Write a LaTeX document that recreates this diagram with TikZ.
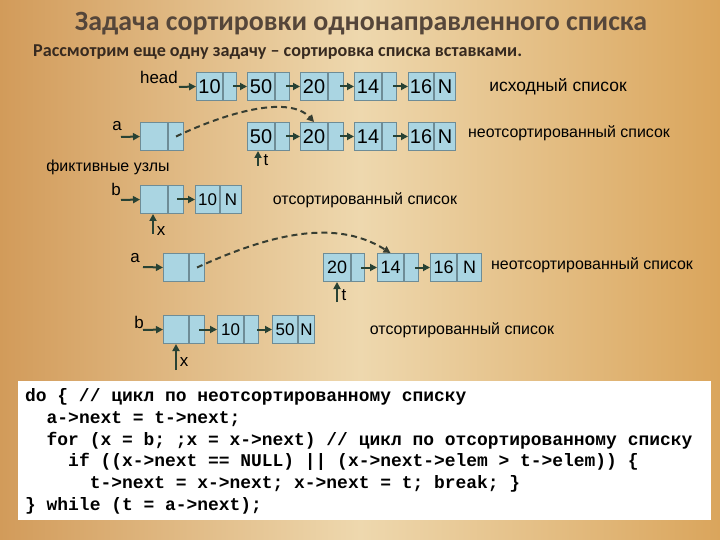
\documentclass[tikz,border=0pt]{standalone}
\usepackage{fontspec}
\setmainfont{Liberation Sans}
\newfontfamily\titlefont{Carlito}
\newfontfamily\codefont{Liberation Mono}
\usetikzlibrary{arrows.meta,calc}
\definecolor{cellfill}{RGB}{170,213,226}
\definecolor{cellborder}{RGB}{110,140,150}
\definecolor{arrowc}{RGB}{40,66,52}
\definecolor{dashc}{RGB}{55,62,50}
\definecolor{bgL}{RGB}{210,155,90}
\definecolor{bgM}{RGB}{238,216,174}
\definecolor{bgR}{RGB}{218,165,92}
\definecolor{titlec}{RGB}{85,70,58}
\definecolor{subc}{RGB}{55,42,32}
\newcommand\cellfs{\fontsize{20}{20}\selectfont}
\newcommand\mylnode[7]{%
  \node[cell, minimum width=#4bp] (#1) at (#2,#3) {#6};
  \node[cell, minimum width=#5bp] (#1n) at (#1.north east) {#7};}
\begin{document}
\begin{tikzpicture}[x=1bp,y=-1bp,
  cell/.style={draw=cellborder, fill=cellfill, line width=1bp, minimum height=28bp,
    inner sep=0pt, anchor=north west, font=\cellfs},
  ptr/.style={-{Triangle[length=7bp,width=7bp]}, line width=2bp, draw=arrowc},
  dptr/.style={ptr, draw=dashc, dash pattern=on 6bp off 4bp},
  plbl/.style={font=\fontsize{17}{17}\selectfont, inner sep=0pt},
  dlbl/.style={font=\fontsize{16}{16}\selectfont, inner sep=0pt}]
\useasboundingbox (0,0) rectangle (720,540);
\shade[left color=bgL, right color=bgR, middle color=bgM] (0,0) rectangle (720,540);

% title
\node[font=\titlefont\bfseries\fontsize{28}{28}\selectfont, text=titlec, inner sep=0pt] (title) at (361,24) {Задача сортировки однонаправленного списка};
\node[font=\titlefont\bfseries\fontsize{18.2}{18}\selectfont, text=subc, inner sep=0pt, anchor=west] (sub) at (33,52) {Рассмотрим еще одну задачу – сортировка списка вставками.};

% row 1
\mylnode{r1a}{196}{72}{26}{13}{10}{}
\mylnode{r1b}{247}{72}{27}{14}{50}{}
\mylnode{r1c}{300}{72}{27}{15}{20}{}
\mylnode{r1d}{354}{72}{27}{14}{14}{}
\mylnode{r1e}{408}{72}{25}{21}{16}{N}
\node[plbl] (head) at (159,77) {head};
\coordinate (headp) at (179,87);
\draw[ptr] (headp) -- (r1a.west);
\draw[ptr] ($(r1an.east)+(-4,0)$) -- (r1b.west);
\draw[ptr] ($(r1bn.east)+(-4,0)$) -- (r1c.west);
\draw[ptr] ($(r1cn.east)+(-4,0)$) -- (r1d.west);
\draw[ptr] ($(r1dn.east)+(-4,0)$) -- (r1e.west);
\node[font=\fontsize{17.5}{17}\selectfont, inner sep=0pt] (orig) at (558,87) {исходный список};

% row 2
\mylnode{a1}{140}{122}{27}{15}{}{}
\mylnode{r2b}{247}{122}{27}{14}{50}{}
\mylnode{r2c}{300}{122}{27}{15}{20}{}
\mylnode{r2d}{354}{122}{27}{14}{14}{}
\mylnode{r2e}{408}{122}{25}{21}{16}{N}
\node[plbl] (alab1) at (117,126) {a};
\coordinate (ap1) at (121,137);
\draw[ptr] (ap1) -- (a1.west);
\draw[ptr] ($(r2bn.east)+(-4,0)$) -- (r2c.west);
\draw[ptr] ($(r2cn.east)+(-4,0)$) -- (r2d.west);
\draw[ptr] ($(r2dn.east)+(-4,0)$) -- (r2e.west);
\draw[dptr] (a1n.center) .. controls (232,110) and (290,96) .. (r2c.north);
\node[dlbl] (uns1) at (569,133) {неотсортированный список};
\coordinate (tp1) at (258,166);
\draw[ptr] (tp1) -- (tp1 |- r2b.south);
\node[plbl] (tlab1) at (266,160) {t};

% row 3
\renewcommand\cellfs{\fontsize{17}{17}\selectfont}
\node[dlbl] (fict) at (108,167) {фиктивные узлы};
\mylnode{b1}{140}{185}{27}{15}{}{}
\mylnode{s1}{195}{185}{24}{21}{10}{N}
\node[plbl] (blab1) at (116,189) {b};
\coordinate (bp1) at (121,200);
\draw[ptr] (bp1) -- (b1.west);
\draw[ptr] ($(b1n.east)+(-7,0)$) -- (s1.west);
\node[dlbl] (srt1) at (365,200) {отсортированный список};
\coordinate (xp1) at (153,234);
\draw[ptr] (xp1) -- (xp1 |- b1.south);
\node[plbl] (xlab1) at (161,231) {x};

% row 4
\renewcommand\cellfs{\fontsize{18}{18}\selectfont}
\mylnode{a2}{163}{253}{25}{15}{}{}
\mylnode{r4c}{323}{253}{27}{13}{20}{}
\mylnode{r4d}{377}{253}{26}{14}{14}{}
\mylnode{r4e}{430}{253}{26}{24}{16}{N}
\node[plbl] (alab2) at (135,258) {a};
\coordinate (ap2) at (143,267);
\draw[ptr] (ap2) -- (a2.west);
\draw[ptr] ($(r4cn.east)+(-4,0)$) -- (r4d.west);
\draw[ptr] ($(r4dn.east)+(-4,0)$) -- (r4e.west);
\draw[dptr] (a2n.center) .. controls (262,238) and (332,216) .. (r4d.north);
\node[dlbl] (uns2) at (592,265) {неотсортированный список};
\coordinate (tp2) at (337,302);
\draw[ptr] (tp2) -- (tp2 |- r4c.south);
\node[plbl] (tlab2) at (344,295) {t};

% row 5
\renewcommand\cellfs{\fontsize{17}{17}\selectfont}
\mylnode{b2}{163}{315}{25}{15}{}{}
\mylnode{s2a}{217}{315}{26}{14}{10}{}
\mylnode{s2b}{272}{315}{25}{16}{50}{N}
\node[plbl] (blab2) at (139,322) {b};
\coordinate (bp2) at (143,330);
\draw[ptr] (bp2) -- (b2.west);
\draw[ptr] ($(b2n.east)+(-6,0)$) -- (s2a.west);
\draw[ptr] ($(s2an.east)+(-2,0)$) -- (s2b.west);
\node[dlbl] (srt2) at (462,330) {отсортированный список};
\coordinate (xp2) at (176,370);
\draw[ptr] (xp2) -- (xp2 |- b2.south);
\node[plbl] (xlab2) at (184,362) {x};

% code
\node[fill=white, draw=none, minimum width=693bp, minimum height=139bp, anchor=north west, inner sep=0pt] (codebox) at (18,381) {};
\node[anchor=north west, inner sep=0pt, align=left, font=\codefont\bfseries\fontsize{18}{22}\selectfont] (code) at (25,388) {%
do \{ // цикл по неотсортированному списку\\
\ \ a->next = t->next;\\
\ \ for (x = b; ;x = x->next) // цикл по отсортированному списку\\
\ \ \ \ if ((x->next == NULL) || (x->next->elem > t->elem)) \{\\
\ \ \ \ \ \ t->next = x->next; x->next = t; break; \}\\
\} while (t = a->next);};
\end{tikzpicture}
\end{document}
